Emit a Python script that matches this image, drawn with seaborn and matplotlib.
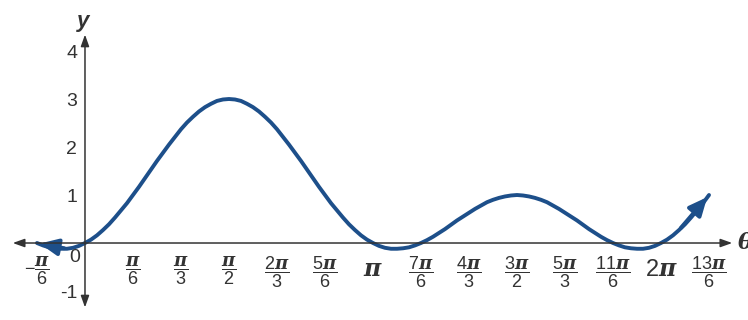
import numpy as np
import pandas as pd
import seaborn as sns
import matplotlib.pyplot as plt

# curve values, theta in steps of pi/48 from -pi/6 to 13pi/6
theta_steps = list(range(-8, 105))
r_values = ([0.0, -0.05, -0.09, -0.11, -0.12, -0.12, -0.10, -0.06]
            + [0.0, 0.07, 0.16, 0.27, 0.39, 0.53, 0.68, 0.83, 1.0, 1.17, 1.35, 1.53, 1.71,
               1.88, 2.05, 2.21, 2.37, 2.51, 2.63, 2.74, 2.83, 2.90, 2.96, 2.99, 3.0,
               2.99, 2.96, 2.90, 2.83, 2.74, 2.63, 2.51, 2.37, 2.21, 2.05, 1.88, 1.71,
               1.53, 1.35, 1.17, 1.0, 0.83, 0.68, 0.53, 0.39, 0.27, 0.16, 0.07, 0.0]
            + [-0.06, -0.10, -0.12, -0.12, -0.11, -0.09, -0.05]
            + [0.0, 0.06, 0.13, 0.21, 0.29, 0.38, 0.47, 0.55, 0.63, 0.71, 0.78, 0.85, 0.90,
               0.94, 0.97, 0.99, 1.0, 0.99, 0.97, 0.94, 0.90, 0.85, 0.78, 0.71, 0.63,
               0.55, 0.47, 0.38, 0.29, 0.21, 0.13, 0.06, 0.0]
            + [-0.05, -0.09, -0.11, -0.12, -0.12, -0.10, -0.06]
            + [0.0, 0.07, 0.16, 0.27, 0.39, 0.53, 0.68, 0.83, 1.0])

x_tick_sixths = [-1, 1, 2, 3, 4, 5, 6, 7, 8, 9, 10, 11, 12, 13]
x_tick_labels = [r'$-\dfrac{\pi}{6}$', r'$\dfrac{\pi}{6}$', r'$\dfrac{\pi}{3}$', r'$\dfrac{\pi}{2}$',
                 r'$\dfrac{2\pi}{3}$', r'$\dfrac{5\pi}{6}$', r'$\pi$', r'$\dfrac{7\pi}{6}$',
                 r'$\dfrac{4\pi}{3}$', r'$\dfrac{3\pi}{2}$', r'$\dfrac{5\pi}{3}$', r'$\dfrac{11\pi}{6}$',
                 r'$2\pi$', r'$\dfrac{13\pi}{6}$']
y_ticks = [-1, 1, 2, 3, 4]

df = pd.DataFrame({'theta': np.array(theta_steps) * np.pi / 48, 'r': r_values})

sns.set_style('white')
plt.rcParams['font.family'] = ['Liberation Sans', 'DejaVu Sans']
plt.rcParams['mathtext.fontset'] = 'custom'
plt.rcParams['mathtext.it'] = 'DejaVu Serif:italic:bold'
plt.rcParams['mathtext.rm'] = 'Liberation Sans'

blue = '#1d4f8a'
axis_col = '#333333'

fig = plt.figure(figsize=(7.48, 3.2), dpi=100)
ax = fig.add_axes([0, 0, 1, 1])

sns.lineplot(data=df, x='theta', y='r', color=blue, linewidth=2.8, ax=ax,
             solid_joinstyle='round', solid_capstyle='round')

# arrowheads on both ends of the curve
head = '-|>,head_length=1.1,head_width=0.5'
ax.annotate('', xy=(df.theta.iloc[0], df.r.iloc[0]), xytext=(df.theta.iloc[5], df.r.iloc[5]),
            arrowprops=dict(arrowstyle=head, color=blue, lw=2.8))
ax.annotate('', xy=(df.theta.iloc[-1], df.r.iloc[-1]), xytext=(df.theta.iloc[-6], df.r.iloc[-6]),
            arrowprops=dict(arrowstyle=head, color=blue, lw=2.8))

ax.set_xlim(-0.927, 7.232)
ax.set_ylim(-1.604, 5.0625)

# axes through the origin, with arrows
for s in ['top', 'right']:
    ax.spines[s].set_visible(False)
ax.spines['left'].set_position(('data', 0))
ax.spines['bottom'].set_position(('data', 0))
ax.spines['left'].set_color('none')
ax.spines['bottom'].set_color('none')
ax.annotate('', xy=(7.09, 0), xytext=(-0.818, 0),
            arrowprops=dict(arrowstyle='<|-|>,head_length=0.7,head_width=0.25', color=axis_col, lw=1.1))
ax.annotate('', xy=(0, 4.40), xytext=(0, -1.40),
            arrowprops=dict(arrowstyle='<|-|>,head_length=0.7,head_width=0.25', color=axis_col, lw=1.1))

ax.set_xticks(np.array(x_tick_sixths) * np.pi / 6)
# pi and 2pi are written larger, centred on the fraction line, as text below
ax.set_xticklabels(['' if lab in (r'$\pi$', r'$2\pi$') else lab for lab in x_tick_labels])
ax.set_yticks(y_ticks)
ax.set_yticklabels([str(v) for v in y_ticks])
ax.tick_params(axis='both', direction='inout', length=7, width=1, color=axis_col,
               labelcolor=axis_col, labelsize=14)
ax.tick_params(axis='x', pad=5, labelsize=13)
ax.tick_params(axis='y', pad=2)
ax.set_xlabel('')
ax.set_ylabel('')

for pos, lab in zip(x_tick_sixths, x_tick_labels):
    if lab in (r'$\pi$', r'$2\pi$'):
        ax.text(pos * np.pi / 6, -0.56, lab, ha='center', va='center', fontsize=17, color=axis_col)

ax.text(-0.05, -0.12, '0', ha='right', va='top', fontsize=14, color=axis_col)
ax.text(-0.02, 4.62, 'y', ha='center', va='center', fontsize=16, color=axis_col,
        fontweight='bold', style='italic')
ax.text(7.11, 0, r'$\theta$', ha='left', va='center', fontsize=16, color=axis_col)

fig.savefig('out.png', dpi=100)
